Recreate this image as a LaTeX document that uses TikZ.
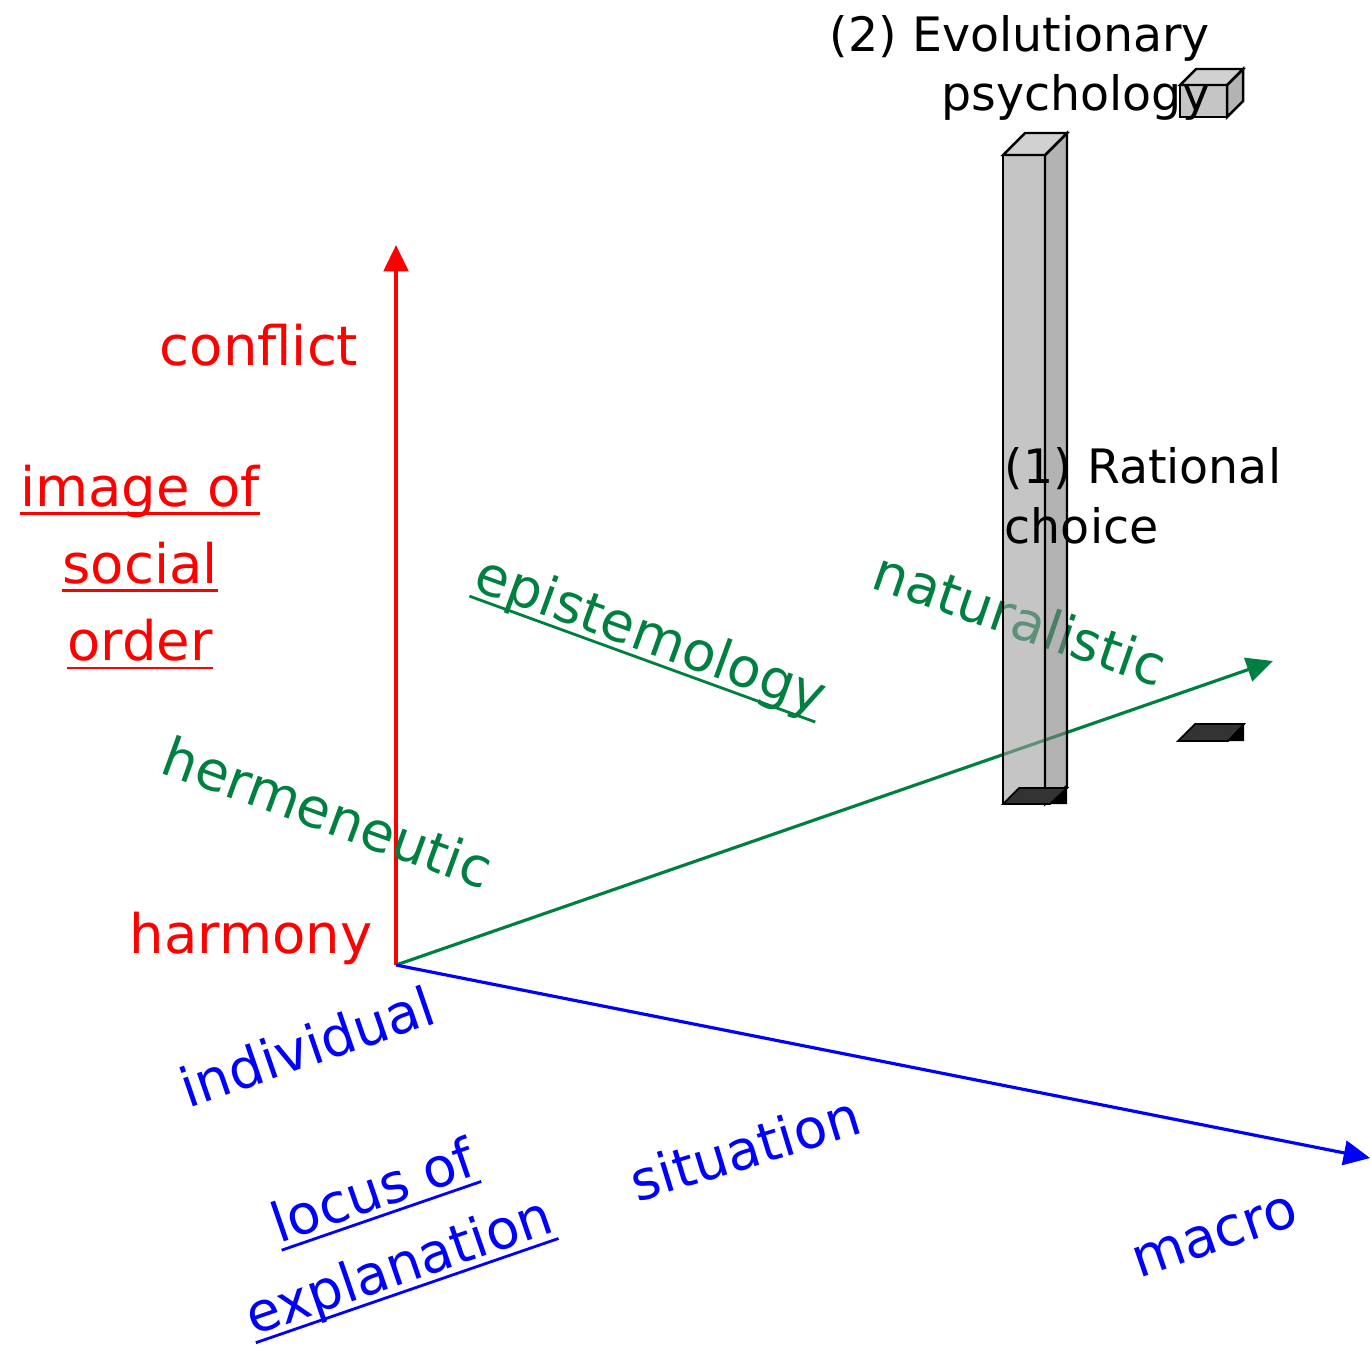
\documentclass[tikz,border=0pt]{standalone}
\usepackage{fontspec}
\setmainfont{DejaVu Sans}
\usetikzlibrary{arrows.meta}
\newsavebox{\ulnbox}
\newcommand{\uln}[1]{\sbox{\ulnbox}{#1}\rlap{\rule[-5pt]{\wd\ulnbox}{1.6pt}}\usebox{\ulnbox}}
\definecolor{axred}{RGB}{255,0,0}
\definecolor{axgreen}{RGB}{0,128,64}
\definecolor{axblue}{RGB}{0,0,255}
\tikzset{
  axis/.style={line width=2pt,-{Triangle[length=15pt,width=14pt]}},
  redtxt/.style={inner sep=0pt,text=axred,font=\fontsize{31}{44}\selectfont},
  greentxt/.style={inner sep=0pt,text=axgreen,font=\fontsize{31}{44}\selectfont},
  bluetxt/.style={inner sep=0pt,text=axblue,font=\fontsize{31}{45}\selectfont},
  blktxt/.style={inner sep=0pt,font=\fontsize{27}{34}\selectfont},
  barface/.style={draw=black,line width=1.4pt,fill opacity=0.6,fill=#1},
  floor/.style={draw=black,line width=1pt,fill=black!80}
}
\begin{document}
\begin{tikzpicture}[x=0.02cm,y=-0.02cm]
  \useasboundingbox (0,0) rectangle (1371,1347);

  % axes
  \coordinate (O) at (396,965);
  \coordinate (order) at (396,245);
  \coordinate (epist) at (1273,661);
  \coordinate (locus) at (1370,1158);
  \draw[axis,axred] (O) -- (order);
  \draw[axis,axgreen,line width=1.8pt] (O) -- (epist);
  \draw[axis,axblue,line width=1.8pt] (O) -- (locus);

  % image of social order
  \node[redtxt] (conflict) at (259,345) {conflict};
  \node[redtxt] (harmony) at (251,938) {harmony};
  \node[redtxt,align=center] (imgorder) at (140,567) {\uln{image of}\\\uln{social}\\\uln{order}};

  % epistemology
  \node[greentxt,rotate=-20] (herm) at (328,812) {hermeneutic};
  \node[greentxt,rotate=-20] (epistlbl) at (650,638) {\uln{epistemology}};
  \node[greentxt,rotate=-19] (natur) at (1020,618) {naturalistic};

  % locus of explanation
  \node[bluetxt,rotate=19] (indiv) at (307,1046) {individual};
  \node[bluetxt,rotate=17] (situ) at (745,1148) {situation};
  \node[bluetxt,rotate=19,align=center] (locuslbl) at (387,1232) {\uln{locus of}\\\uln{explanation}};
  \node[bluetxt,rotate=19] (macro) at (1215,1237) {macro};

  % bar (1)
  \path[barface=black!38] (1003,155) rectangle (1045,804);
  \path[barface=black!50] (1045,155) -- (1067,133) -- (1067,786) -- (1045,804) -- cycle;
  \path[barface=black!30] (1003,155) -- (1025,133) -- (1067,133) -- (1045,155) -- cycle;
  \fill (1050,804) -- (1067,788) -- (1067,804) -- cycle;
  \path[floor] (1003,804) -- (1019,788) -- (1067,788) -- (1050,804) -- cycle;

  % bar (2)
  \fill (1228,741) -- (1244,724) -- (1244,741) -- cycle;
  \path[floor] (1178,741) -- (1195,724) -- (1244,724) -- (1228,741) -- cycle;
  \path[barface=black!38] (1180,85) rectangle (1227,117);
  \path[barface=black!50] (1227,85) -- (1243,69) -- (1243,101) -- (1227,117) -- cycle;
  \path[barface=black!30] (1180,85) -- (1196,69) -- (1243,69) -- (1227,85) -- cycle;

  \node[blktxt,align=left] (rational) at (1143,496) {(1) Rational\\choice};
  \node[blktxt,align=right] (evol) at (1020,68) {(2) Evolutionary\\psychology};
\end{tikzpicture}
\end{document}
